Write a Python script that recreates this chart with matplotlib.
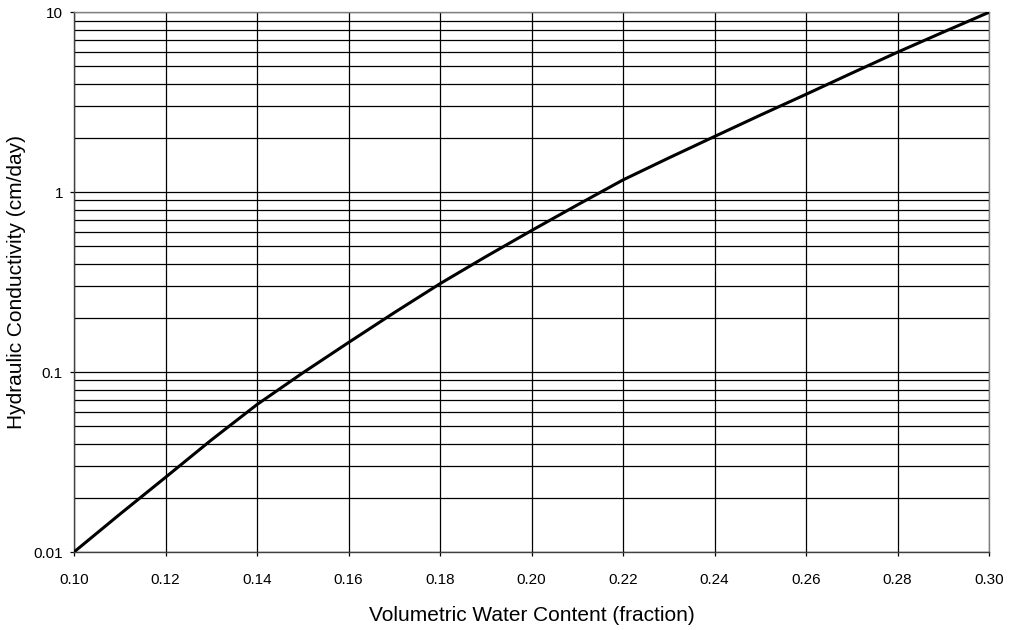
import matplotlib
matplotlib.use("Agg")
import matplotlib.pyplot as plt
from matplotlib.ticker import FixedLocator, LogLocator, NullFormatter, FixedFormatter

plt.rcParams['font.family'] = ['Liberation Sans', 'DejaVu Sans']

water_content = [0.10, 0.11, 0.12, 0.13, 0.14, 0.15, 0.16, 0.17, 0.18, 0.19, 0.20,
                 0.21, 0.22, 0.23, 0.24, 0.25, 0.26, 0.27, 0.28, 0.29, 0.30]
conductivity = [0.01, 0.0162, 0.026, 0.0419, 0.066, 0.099, 0.146, 0.214, 0.31, 0.438, 0.612,
                0.849, 1.17, 1.55, 2.04, 2.68, 3.5, 4.59, 6.0, 7.76, 10.0]

x_ticks = [0.10, 0.12, 0.14, 0.16, 0.18, 0.20, 0.22, 0.24, 0.26, 0.28, 0.30]
x_tick_labels = ["0.10", "0.12", "0.14", "0.16", "0.18", "0.20", "0.22", "0.24", "0.26", "0.28", "0.30"]
y_ticks = [0.01, 0.1, 1, 10]
y_tick_labels = ["0.01", "0.1", "1", "10"]

fig = plt.figure(figsize=(10.11, 6.30), dpi=100)
ax = fig.add_axes([74/1011, 1 - 552/630, (989 - 74)/1011, (552 - 12.3)/630])

ax.set_yscale('log')
ax.set_xlim(0.10, 0.30)
ax.set_ylim(0.01, 10)

ax.xaxis.set_major_locator(FixedLocator(x_ticks))
ax.xaxis.set_major_formatter(FixedFormatter(x_tick_labels))
ax.yaxis.set_major_locator(FixedLocator(y_ticks))
ax.yaxis.set_major_formatter(FixedFormatter(y_tick_labels))
ax.yaxis.set_minor_locator(LogLocator(base=10, subs=range(2, 10)))
ax.yaxis.set_minor_formatter(NullFormatter())

ax.grid(True, which='major', axis='both', color='black', linewidth=0.9)
ax.grid(True, which='minor', axis='y', color='black', linewidth=0.9)
ax.set_axisbelow(True)

ax.plot(water_content, conductivity, color='black', linewidth=2.2,
        solid_capstyle='round', solid_joinstyle='round', zorder=5)

ax.tick_params(axis='both', which='major', direction='out', length=3, width=0.9,
               labelsize=11, colors='black')
ax.tick_params(axis='x', which='major', pad=12)
ax.tick_params(axis='y', which='major', pad=5)
ax.tick_params(axis='y', which='minor', length=0)

for side in ['top', 'right']:
    ax.spines[side].set_color('#808080')
    ax.spines[side].set_linewidth(1.0)
for side in ['left', 'bottom']:
    ax.spines[side].set_color('#404040')
    ax.spines[side].set_linewidth(1.0)

ax.set_xlabel('Volumetric Water Content (fraction)', fontsize=15, labelpad=14)
ax.set_ylabel('Hydraulic Conductivity (cm/day)', fontsize=15, labelpad=5)

fig.savefig('out.png', dpi=100, facecolor='white')
